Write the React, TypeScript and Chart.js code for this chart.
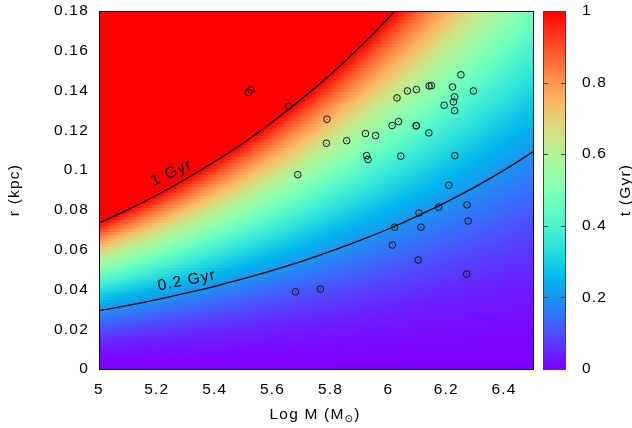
import { useEffect, useRef } from "react";
import { Chart, registerables } from "chart.js";

Chart.register(...registerables);

// Axis ticks
const X_TICKS = [5, 5.2, 5.4, 5.6, 5.8, 6, 6.2, 6.4];
const Y_TICKS = [0, 0.02, 0.04, 0.06, 0.08, 0.1, 0.12, 0.14, 0.16, 0.18];
const CB_TICKS = [0, 0.2, 0.4, 0.6, 0.8, 1];

// Contour 1 Gyr
const CONTOUR_1_M = [5.0, 5.1, 5.2, 5.3, 5.4, 5.5, 5.6, 5.7, 5.8, 5.9, 6.0, 6.1];
const CONTOUR_1_R = [0.0734, 0.0801, 0.0875, 0.0955, 0.1043, 0.1138, 0.1243, 0.1357, 0.1481, 0.1617, 0.1765, 0.1927];

// Contour 0.2 Gyr
const CONTOUR_02_M = [5.0, 5.1, 5.2, 5.3, 5.4, 5.5, 5.6, 5.7, 5.8, 5.9, 6.0, 6.1, 6.2, 6.3, 6.4, 6.5];
const CONTOUR_02_R = [0.0293, 0.032, 0.0349, 0.0381, 0.0416, 0.0454, 0.0496, 0.0541, 0.0591, 0.0645, 0.0704, 0.0769, 0.0839, 0.0916, 0.1, 0.1092];

// Contour levels (Gyr)
const T_LOW = 0.2;
const T_HIGH = 1;

// Clusters
const CLUSTER_LOGM = [
  5.517, 5.525, 5.656, 5.788, 5.786, 5.856, 5.687, 6.251, 6.294, 6.222,
  6.141, 6.149, 6.097, 6.066, 6.03, 6.229, 6.225, 6.193, 6.229, 6.035,
  6.013, 6.096, 6.097, 6.14, 5.921, 5.956, 5.925, 5.93, 6.043, 6.23,
  6.209, 6.272, 6.174, 6.106, 6.276, 6.022, 6.113, 6.014, 6.103, 6.271,
  5.679, 5.765,
];
const CLUSTER_R = [
  0.1392, 0.1403, 0.1321, 0.1256, 0.1135, 0.1148, 0.0977, 0.1479, 0.1398, 0.1418,
  0.1423, 0.1425, 0.1405, 0.1398, 0.1363, 0.1368, 0.1343, 0.1326, 0.1299, 0.1244,
  0.1224, 0.1222, 0.1224, 0.1187, 0.1184, 0.1174, 0.1073, 0.1053, 0.107, 0.1073,
  0.0924, 0.0825, 0.0814, 0.0784, 0.0744, 0.0713, 0.0713, 0.0623, 0.0548, 0.0477,
  0.0388, 0.0402,
];

const FONT = "'Liberation Sans', Arial, 'DejaVu Sans', sans-serif";
const FS = 15.5;

// Field model anchored on the two contours
const M0 = CONTOUR_02_M[0];
const LOG_SLOPE =
  Math.log10(CONTOUR_02_R[CONTOUR_02_R.length - 1] / CONTOUR_02_R[0]) /
  (CONTOUR_02_M[CONTOUR_02_M.length - 1] - CONTOUR_02_M[0]);
const EXPO = Math.log(T_HIGH / T_LOW) / Math.log(CONTOUR_1_R[0] / CONTOUR_02_R[0]);
function tField(m: number, r: number) {
  const rl = CONTOUR_02_R[0] * Math.pow(10, LOG_SLOPE * (m - M0));
  return T_LOW * Math.pow(Math.max(r, 0) / rl, EXPO);
}

function rainbow(v: number): [number, number, number] {
  const x = Math.min(1, Math.max(0, v));
  const r = Math.min(1, Math.abs(2 * x - 0.5));
  const g = Math.sin(Math.PI * x);
  const b = Math.cos((Math.PI * x) / 2);
  return [Math.round(r * 255), Math.round(Math.max(0, g) * 255), Math.round(Math.max(0, b) * 255)];
}

const fmt = (v: number) => String(+Number(v).toFixed(2));

const setSpacing = (chart: any) => {
  try {
    (chart.ctx as any).letterSpacing = "1.2px";
  } catch (e) {}
};

const resetPad = (s: any) => {
  s.paddingTop = 0;
  s.paddingBottom = 0;
  s.paddingLeft = 0;
  s.paddingRight = 0;
};

const plugin = {
  id: "custom",
  beforeUpdate(chart: any) {
    setSpacing(chart);
  },
  beforeDraw(chart: any) {
    setSpacing(chart);
    const { ctx } = chart;
    ctx.save();
    ctx.fillStyle = "#fff";
    ctx.fillRect(0, 0, chart.width, chart.height);
    ctx.restore();
  },
  beforeDatasetsDraw(chart: any) {
    const { ctx, chartArea: a, scales } = chart;
    const x = scales.x, y = scales.y;
    const NX = 145, NY = 120;
    const off = document.createElement("canvas");
    off.width = NX;
    off.height = NY;
    const octx = off.getContext("2d")!;
    const img = octx.createImageData(NX, NY);
    const mMin = x.min, mMax = x.max, rMin = y.min, rMax = y.max;
    for (let j = 0; j < NY; j++) {
      const r = rMax - ((j + 0.5) / NY) * (rMax - rMin);
      for (let i = 0; i < NX; i++) {
        const m = mMin + ((i + 0.5) / NX) * (mMax - mMin);
        const [R, G, B] = rainbow(tField(m, r));
        const k = (j * NX + i) * 4;
        img.data[k] = R;
        img.data[k + 1] = G;
        img.data[k + 2] = B;
        img.data[k + 3] = 255;
      }
    }
    octx.putImageData(img, 0, 0);
    ctx.save();
    ctx.imageSmoothingEnabled = false;
    const px0 = x.getPixelForValue(mMin), px1 = x.getPixelForValue(mMax);
    const py0 = y.getPixelForValue(rMax), py1 = y.getPixelForValue(rMin);
    ctx.drawImage(off, px0, py0, px1 - px0, py1 - py0);
    ctx.restore();

    // colorbar
    const cb = scales.cb;
    const bx0 = a.right + 10, bx1 = a.right + 33;
    const top = cb.getPixelForValue(1), bot = cb.getPixelForValue(0);
    ctx.save();
    for (let py = Math.floor(top); py < Math.ceil(bot); py++) {
      const v = cb.getValueForPixel(py + 0.5);
      const [R, G, B] = rainbow(v);
      ctx.fillStyle = `rgb(${R},${G},${B})`;
      ctx.fillRect(bx0, py, bx1 - bx0, 1);
    }
    ctx.strokeStyle = "#444";
    ctx.lineWidth = 1;
    ctx.strokeRect(bx0 + 0.5, Math.round(top) + 0.5, bx1 - bx0 - 1, Math.round(bot) - Math.round(top));
    for (const v of CB_TICKS) {
      if (v === 0 || v === 1) continue;
      const py = Math.round(cb.getPixelForValue(v)) + 0.5;
      ctx.beginPath();
      ctx.moveTo(bx0, py);
      ctx.lineTo(bx0 + 5, py);
      ctx.moveTo(bx1 - 5, py);
      ctx.lineTo(bx1, py);
      ctx.stroke();
    }
    ctx.restore();
  },
  afterDatasetsDraw(chart: any) {
    const { ctx, chartArea: a, scales } = chart;
    const x = scales.x, y = scales.y;
    ctx.save();
    ctx.strokeStyle = "#000";
    ctx.lineWidth = 1;
    ctx.strokeRect(a.left + 0.5, a.top + 0.5, a.right - a.left, a.bottom - a.top);

    ctx.fillStyle = "#000";
    ctx.font = `${FS}px ${FONT}`;
    ctx.textAlign = "center";
    ctx.textBaseline = "middle";
    const lbl = (text: string, m: number, r: number, deg: number) => {
      ctx.save();
      ctx.translate(x.getPixelForValue(m), y.getPixelForValue(r));
      ctx.rotate((deg * Math.PI) / 180);
      ctx.fillText(text, 0, 0);
      ctx.restore();
    };
    lbl("1 Gyr", 5.251, 0.0986, -25);
    lbl("0.2 Gyr", 5.304, 0.0444, -11);

    // axis titles
    const cy = (a.top + a.bottom) / 2;
    ctx.save();
    ctx.translate(15, cy);
    ctx.rotate(-Math.PI / 2);
    ctx.fillText("r (kpc)", 0, 0);
    ctx.restore();

    ctx.save();
    ctx.translate(626, cy);
    ctx.rotate(-Math.PI / 2);
    ctx.fillText("t (Gyr)", 0, 0);
    ctx.restore();

    // x title with subscript sun symbol
    const main = "Log M (M";
    const sub = "⊙";
    const close = ")";
    ctx.textAlign = "left";
    ctx.textBaseline = "alphabetic";
    const subFont = `10px ${FONT}`;
    const mainFont = `${FS}px ${FONT}`;
    ctx.font = mainFont;
    const w1 = ctx.measureText(main).width;
    const w3 = ctx.measureText(close).width;
    ctx.font = subFont;
    const w2 = ctx.measureText(sub).width;
    const total = w1 + w2 + w3;
    const cx = (a.left + a.right) / 2 - 1;
    let px = cx - total / 2;
    const base = 418.5;
    ctx.font = mainFont;
    ctx.fillText(main, px, base);
    px += w1;
    ctx.font = subFont;
    ctx.fillText(sub, px, base + 3);
    px += w2;
    ctx.font = mainFont;
    ctx.fillText(close, px, base);
    ctx.restore();
  },
};

export default function App() {
  const ref = useRef<HTMLCanvasElement | null>(null);
  useEffect(() => {
    document.body.style.margin = "0";
    const canvas = ref.current!;
    const pts = CLUSTER_LOGM.map((m, i) => ({ x: m, y: CLUSTER_R[i] }));
    const c1 = CONTOUR_1_M.map((m, i) => ({ x: m, y: CONTOUR_1_R[i] }));
    const c2 = CONTOUR_02_M.map((m, i) => ({ x: m, y: CONTOUR_02_R[i] }));
    const tickFont = { family: FONT, size: FS };
    const chart = new Chart(canvas, {
      type: "scatter",
      data: {
        datasets: [
          {
            type: "line",
            data: c1,
            borderColor: "#000",
            borderWidth: 1.3,
            pointRadius: 0,
            tension: 0.4,
            fill: false,
          } as any,
          {
            type: "line",
            data: c2,
            borderColor: "#000",
            borderWidth: 1.3,
            pointRadius: 0,
            tension: 0.4,
            fill: false,
          } as any,
          {
            data: pts,
            pointStyle: "circle",
            pointRadius: 3.3,
            borderColor: "#111",
            borderWidth: 1,
            backgroundColor: "rgba(0,0,0,0)",
          },
          {
            data: pts,
            pointStyle: "circle",
            pointRadius: 0.6,
            borderWidth: 0,
            backgroundColor: "#222",
          },
        ],
      },
      options: {
        animation: false,
        responsive: false,
        devicePixelRatio: 1,
        events: [],
        layout: { padding: { top: 11, left: 0, right: 0, bottom: 0 } },
        plugins: { legend: { display: false }, tooltip: { enabled: false } },
        scales: {
          x: {
            type: "linear",
            min: 5,
            max: 6.5,
            grid: { display: false, drawTicks: false },
            border: { display: false },
            ticks: { font: tickFont, color: "#000", padding: 11, callback: (v: any) => fmt(v) },
            afterBuildTicks: (s: any) => {
              s.ticks = X_TICKS.map((v) => ({ value: v }));
            },
            afterFit: (s: any) => {
              s.height = 59;
              resetPad(s);
            },
          },
          y: {
            type: "linear",
            min: 0,
            max: 0.18,
            grid: { display: false, drawTicks: false },
            border: { display: false },
            ticks: { font: tickFont, color: "#000", padding: 10, callback: (v: any) => fmt(v) },
            afterBuildTicks: (s: any) => {
              s.ticks = Y_TICKS.map((v) => ({ value: v }));
            },
            afterFit: (s: any) => {
              s.width = 99;
              resetPad(s);
            },
          },
          cb: {
            type: "linear",
            position: "right",
            axis: "y",
            min: 0,
            max: 1,
            grid: { display: false, drawTicks: false },
            border: { display: false },
            ticks: { font: tickFont, color: "#000", padding: 49, callback: (v: any) => fmt(v) },
            afterBuildTicks: (s: any) => {
              s.ticks = CB_TICKS.map((v) => ({ value: v }));
            },
            afterFit: (s: any) => {
              s.width = 99;
              resetPad(s);
            },
          },
        },
      },
      plugins: [plugin],
    });
    return () => chart.destroy();
  }, []);
  return (
    <div style={{ position: "absolute", left: 0, top: 0, width: 632, height: 428 }}>
      <canvas ref={ref} width={632} height={428} style={{ display: "block" }} />
    </div>
  );
}
